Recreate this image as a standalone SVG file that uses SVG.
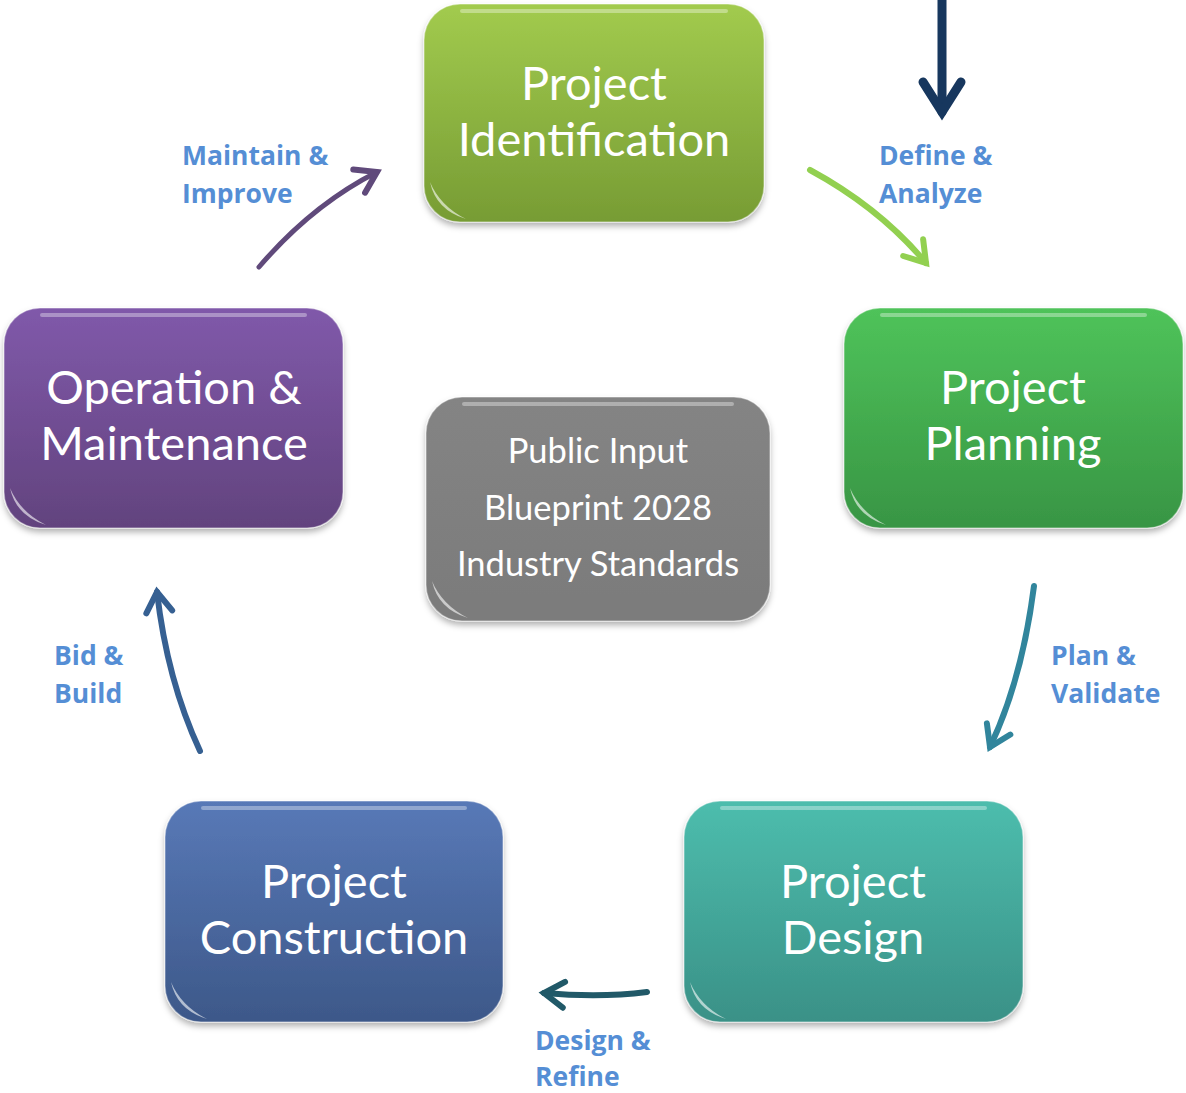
<svg xmlns="http://www.w3.org/2000/svg" width="1186" height="1093" viewBox="0 0 1186 1093">
<defs>
<style>
.nt{font-family:Lato,"Open Sans","Liberation Sans",sans-serif;font-size:47px;fill:#fff;text-anchor:middle}
.ct{font-family:Lato,"Open Sans","Liberation Sans",sans-serif;font-size:34.5px;fill:#fff;text-anchor:middle}
.lb{font-family:"Open Sans","Liberation Sans",sans-serif;font-weight:bold;font-size:26.5px;fill:#558ed5}
.box{stroke:#fff;stroke-opacity:0.35;stroke-width:1.5}
.hl{fill:none;stroke:#fff;stroke-opacity:0.35;stroke-width:4;stroke-linecap:round}
.gl{fill:#fff;fill-opacity:0.6}
.cn{fill:none;stroke-linecap:round}
</style>
<linearGradient id="gId" x1="0" y1="0" x2="0" y2="1"><stop offset="0" stop-color="#a2cb4e"/><stop offset="1" stop-color="#779c34"/></linearGradient>
<linearGradient id="gPl" x1="0" y1="0" x2="0" y2="1"><stop offset="0" stop-color="#4fc35a"/><stop offset="1" stop-color="#389544"/></linearGradient>
<linearGradient id="gOp" x1="0" y1="0" x2="0" y2="1"><stop offset="0" stop-color="#8059aa"/><stop offset="1" stop-color="#62437e"/></linearGradient>
<linearGradient id="gCe" x1="0" y1="0" x2="0" y2="1"><stop offset="0" stop-color="#848484"/><stop offset="1" stop-color="#7b7b7b"/></linearGradient>
<linearGradient id="gCo" x1="0" y1="0" x2="0" y2="1"><stop offset="0" stop-color="#5879b7"/><stop offset="1" stop-color="#3d5889"/></linearGradient>
<linearGradient id="gDe" x1="0" y1="0" x2="0" y2="1"><stop offset="0" stop-color="#4dbdad"/><stop offset="1" stop-color="#3a9187"/></linearGradient>
<filter id="sh" x="-10%" y="-10%" width="120%" height="130%"><feDropShadow dx="0" dy="4" stdDeviation="3" flood-color="#000" flood-opacity="0.3"/></filter>
<marker id="mNavy" viewBox="-40 -30 50 60" refX="0" refY="0" markerWidth="50" markerHeight="60" markerUnits="userSpaceOnUse" orient="auto" overflow="visible"><path d="M-30,-19 L0,0 L-30,19" fill="none" stroke="#17375e" stroke-width="9" stroke-linecap="round" stroke-linejoin="miter"/></marker>
<marker id="mGreen" viewBox="-30 -20 40 40" refX="0" refY="0" markerWidth="40" markerHeight="40" markerUnits="userSpaceOnUse" orient="auto" overflow="visible"><path d="M-20,-13 L0,0 L-20,13" fill="none" stroke="#92d050" stroke-width="6" stroke-linecap="round"/></marker>
<marker id="mTeal" viewBox="-30 -20 40 40" refX="0" refY="0" markerWidth="40" markerHeight="40" markerUnits="userSpaceOnUse" orient="auto" overflow="visible"><path d="M-20,-13 L0,0 L-20,13" fill="none" stroke="#31859c" stroke-width="6" stroke-linecap="round"/></marker>
<marker id="mDark" viewBox="-30 -20 40 40" refX="0" refY="0" markerWidth="40" markerHeight="40" markerUnits="userSpaceOnUse" orient="auto" overflow="visible"><path d="M-20,-13 L0,0 L-20,13" fill="none" stroke="#215968" stroke-width="6" stroke-linecap="round"/></marker>
<marker id="mBlue" viewBox="-30 -20 40 40" refX="0" refY="0" markerWidth="40" markerHeight="40" markerUnits="userSpaceOnUse" orient="auto" overflow="visible"><path d="M-20,-13 L0,0 L-20,13" fill="none" stroke="#366092" stroke-width="6" stroke-linecap="round"/></marker>
<marker id="mPurp" viewBox="-30 -20 40 40" refX="0" refY="0" markerWidth="40" markerHeight="40" markerUnits="userSpaceOnUse" orient="auto" overflow="visible"><path d="M-20,-13 L0,0 L-20,13" fill="none" stroke="#604a7b" stroke-width="6" stroke-linecap="round"/></marker>
</defs>
<rect width="1186" height="1093" fill="#fff"/>

<g id="connectors">
<path class="cn" d="M942,0 L942,112" stroke="#17375e" stroke-width="9" marker-end="url(#mNavy)"/>
<path class="cn" d="M810,170 Q880,208 926,263" stroke="#92d050" stroke-width="6" marker-end="url(#mGreen)"/>
<path class="cn" d="M1034,586 Q1022,680 990,747" stroke="#31859c" stroke-width="6" marker-end="url(#mTeal)"/>
<path class="cn" d="M647,992 Q600,998 544,993" stroke="#215968" stroke-width="6" marker-end="url(#mDark)"/>
<path class="cn" d="M200,751 Q167,680 157,592" stroke="#366092" stroke-width="6" marker-end="url(#mBlue)"/>
<path class="cn" d="M259,267 Q312,205 377,172" stroke="#604a7b" stroke-width="5" marker-end="url(#mPurp)"/>
</g>

<g id="labels">
<text class="lb" x="182" y="165">Maintain &amp;</text>
<text class="lb" x="182" y="203">Improve</text>
<text class="lb" x="879" y="165">Define &amp;</text>
<text class="lb" x="879" y="203">Analyze</text>
<text class="lb" x="1051" y="665">Plan &amp;</text>
<text class="lb" x="1051" y="703">Validate</text>
<text class="lb" x="535" y="1050">Design &amp;</text>
<text class="lb" x="535" y="1086">Refine</text>
<text class="lb" x="54" y="665">Bid &amp;</text>
<text class="lb" x="54" y="703">Build</text>
</g>

<g id="node-identification">
<rect class="box" x="424" y="4" width="340" height="218" rx="36" fill="url(#gId)" filter="url(#sh)"/>
<path class="hl" d="M462,11 L726,11"/>
<path class="gl" d="M430,182 Q436,210 466,219 Q440,206 430,182 Z"/>
<text class="nt" x="594" y="100">Project</text>
<text class="nt" x="594" y="156">Identification</text>
</g>

<g id="node-planning">
<rect class="box" x="844" y="308" width="339" height="220" rx="36" fill="url(#gPl)" filter="url(#sh)"/>
<path class="hl" d="M882,315 L1145,315"/>
<path class="gl" d="M850,488 Q856,516 886,525 Q860,512 850,488 Z"/>
<text class="nt" x="1013" y="404">Project</text>
<text class="nt" x="1013" y="460">Planning</text>
</g>

<g id="node-operation">
<rect class="box" x="4" y="308" width="339" height="220" rx="36" fill="url(#gOp)" filter="url(#sh)"/>
<path class="hl" d="M42,315 L305,315"/>
<path class="gl" d="M10,488 Q16,516 46,525 Q20,512 10,488 Z"/>
<text class="nt" x="174" y="404">Operation &amp;</text>
<text class="nt" x="174" y="460">Maintenance</text>
</g>

<g id="node-center">
<rect class="box" x="426" y="397" width="344" height="224" rx="36" fill="url(#gCe)" filter="url(#sh)"/>
<path class="hl" d="M464,404 L732,404"/>
<path class="gl" d="M432,581 Q438,609 468,618 Q442,605 432,581 Z"/>
<text class="ct" x="598" y="463">Public Input</text>
<text class="ct" x="598" y="520">Blueprint 2028</text>
<text class="ct" x="598" y="576">Industry Standards</text>
</g>

<g id="node-construction">
<rect class="box" x="165" y="801" width="338" height="221" rx="36" fill="url(#gCo)" filter="url(#sh)"/>
<path class="hl" d="M203,808 L465,808"/>
<path class="gl" d="M171,982 Q177,1010 207,1019 Q181,1006 171,982 Z"/>
<text class="nt" x="334" y="898">Project</text>
<text class="nt" x="334" y="954">Construction</text>
</g>

<g id="node-design">
<rect class="box" x="684" y="801" width="339" height="221" rx="36" fill="url(#gDe)" filter="url(#sh)"/>
<path class="hl" d="M722,808 L985,808"/>
<path class="gl" d="M690,982 Q696,1010 726,1019 Q700,1006 690,982 Z"/>
<text class="nt" x="853" y="898">Project</text>
<text class="nt" x="853" y="954">Design</text>
</g>
</svg>
